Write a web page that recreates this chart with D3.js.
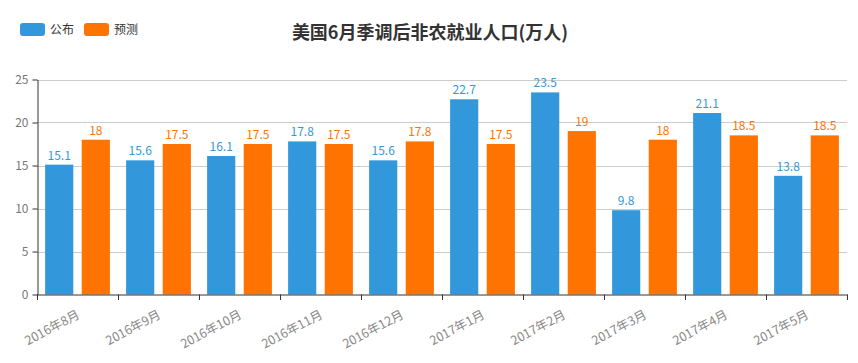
<!DOCTYPE html>
<html><head><meta charset="utf-8">
<script src="https://cdn.jsdelivr.net/npm/d3@7"></script>
<style>body{margin:0;background:#fff;font-family:"Noto Sans CJK SC","Noto Sans",sans-serif;}</style>
</head><body>
<svg id="c" width="858" height="363"></svg>
<script>
const categories = ["2016年8月","2016年9月","2016年10月","2016年11月","2016年12月","2017年1月","2017年2月","2017年3月","2017年4月","2017年5月"];
const published = [15.1,15.6,16.1,17.8,15.6,22.7,23.5,9.8,21.1,13.8];
const forecast = [18,17.5,17.5,17.5,17.8,17.5,19,18,18.5,18.5];
const seriesNames = ["公布","预测"];
const colors = ["#3398DB","#FF7300"];
const yTicks = [0,5,10,15,20,25];
const title = "美国6月季调后非农就业人口(万人)";

const svg = d3.select("#c");
const m = {l:37, r:847, t:79.5, b:294.5};
const x = d3.scaleBand().domain(categories).range([m.l, m.r]).paddingInner(0).paddingOuter(0);
const y = d3.scaleLinear().domain([0,25]).range([m.b, m.t]);
const font = '"Noto Sans CJK SC","Noto Sans",sans-serif';

// grid
svg.append("g").selectAll("line").data(yTicks.filter(d=>d>0)).join("line")
  .attr("x1", m.l).attr("x2", m.r).attr("y1", d=>Math.round(y(d))+0.5).attr("y2", d=>Math.round(y(d))+0.5)
  .attr("stroke", "#ccc");

// bars
const bw = x.bandwidth();
const catGap = bw*0.2/2;
const barW = (bw*0.8)/2.3;
const gap = barW*0.3;
const series = [published, forecast];
series.forEach((vals, si) => {
  const g = svg.append("g");
  const off = catGap + si*(barW+gap);
  g.selectAll("rect").data(vals).join("rect")
    .attr("x", (d,i)=>x(categories[i])+off)
    .attr("width", barW)
    .attr("y", d=>y(d))
    .attr("height", d=>y(0)-y(d))
    .attr("fill", colors[si]);
  g.selectAll("text").data(vals).join("text")
    .attr("x", (d,i)=>x(categories[i])+off+barW/2)
    .attr("y", d=>y(d)-5)
    .attr("text-anchor","middle")
    .attr("font-size", 12).attr("font-family", font)
    .attr("fill", colors[si])
    .text(d=>d);
});

// y axis
const ya = svg.append("g").attr("transform", `translate(${m.l+0.5},0)`)
  .call(d3.axisLeft(y).tickValues(yTicks).tickSize(5).tickPadding(4).tickSizeOuter(0));
ya.select(".domain").attr("stroke","#333");
ya.selectAll(".tick line").attr("stroke","#333");
ya.selectAll("text").attr("fill","#777").attr("font-size",12).attr("font-family",font);

// x axis
const xa = svg.append("g").attr("transform", `translate(0,${m.b})`);
xa.append("line").attr("x1", m.l).attr("x2", m.r+0.5).attr("y1",0.5).attr("y2",0.5).attr("stroke","#333");
const bounds = categories.map(c=>x(c)).concat([m.r]);
xa.selectAll("line.t").data(bounds).join("line").attr("class","t")
  .attr("x1", d=>Math.round(d)+0.5).attr("x2", d=>Math.round(d)+0.5).attr("y1",0).attr("y2",5.5).attr("stroke","#333");
xa.selectAll("text").data(categories).join("text")
  .attr("transform", d=>`translate(${x(d)+bw/2+1},${19}) rotate(-28)`)
  .attr("text-anchor","end")
  .attr("dy","0.35em")
  .attr("font-size",12.5).attr("font-family",font).attr("fill","#888")
  .text(d=>d);

// title
svg.append("text").attr("x", 430).attr("y", 39).attr("text-anchor","middle")
  .attr("font-size", 18).attr("font-weight","bold").attr("font-family",font).attr("fill","#333")
  .text(title);

// legend
const lx = [20, 84];
seriesNames.forEach((n,i)=>{
  svg.append("rect").attr("x", lx[i]).attr("y", 23).attr("width", 25).attr("height", 13).attr("rx", 3)
    .attr("fill", colors[i]);
  svg.append("text").attr("x", lx[i]+30).attr("y", 30).attr("dy","0.35em")
    .attr("font-size",12).attr("font-family",font).attr("fill","#333").text(n);
});
</script>
</body></html>
